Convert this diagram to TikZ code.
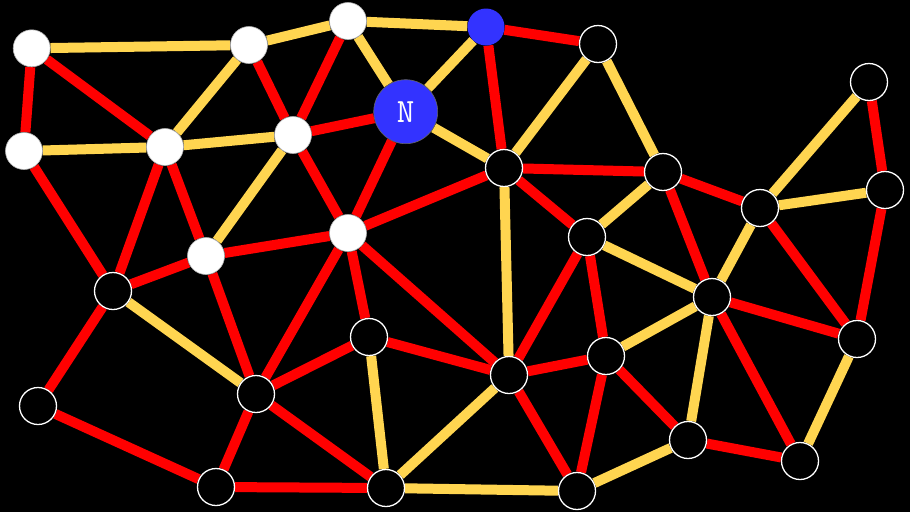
\documentclass[tikz,border=0pt]{standalone}
\usepackage{tikz}
\usetikzlibrary{backgrounds}
\definecolor{edgered}{RGB}{255,0,0}
\definecolor{edgeyel}{RGB}{255,213,80}
\definecolor{nodeblue}{RGB}{51,51,255}
\tikzset{
  wvtx/.style={circle,fill=white,draw=gray!60,line width=0.6pt,minimum size=37pt,inner sep=0pt},
  bvtx/.style={circle,fill=black,draw=white,line width=1.3pt,minimum size=37pt,inner sep=0pt},
  bluevtx/.style={circle,fill=nodeblue,minimum size=37pt,inner sep=0pt},
  bigvtx/.style={circle,fill=nodeblue,draw=black!60,line width=0.6pt,minimum size=64pt,inner sep=0pt,
    text=white,font=\ttfamily\fontsize{34}{34}\selectfont},
  redge/.style={edgered,line width=10pt},
  yedge/.style={edgeyel,line width=10pt}
}

\begin{document}
\begin{tikzpicture}[x=1pt,y=-1pt]
\useasboundingbox (0,0) rectangle (910,512);
% vertices
\node[wvtx] (a1) at (31.7,48.3) {};
\node[wvtx] (a2) at (249,45) {};
\node[wvtx] (a3) at (348,21) {};
\node[bluevtx] (a4) at (486,27) {};
\node[bvtx] (a5) at (598,44) {};
\node[bvtx] (a6) at (869,82) {};
\node[wvtx] (a7) at (24,151) {};
\node[wvtx] (a8) at (165,147) {};
\node[wvtx] (a9) at (293,135) {};
\node[bigvtx] (nn) at (405.7,111.7) {N};
\node[bvtx] (a11) at (504,168) {};
\node[bvtx] (a12) at (663,172) {};
\node[bvtx] (a13) at (760,208) {};
\node[bvtx] (a14) at (885,190) {};
\node[bvtx] (a15) at (587,237) {};
\node[wvtx] (a16) at (348,233) {};
\node[wvtx] (a17) at (206,256) {};
\node[bvtx] (a18) at (113,291) {};
\node[bvtx] (a19) at (712,297) {};
\node[bvtx] (a20) at (857,339) {};
\node[bvtx] (a21) at (369,337) {};
\node[bvtx] (a22) at (606,356) {};
\node[bvtx] (a23) at (509,375) {};
\node[bvtx] (a24) at (256,394) {};
\node[bvtx] (a25) at (38,406) {};
\node[bvtx] (a26) at (688,440) {};
\node[bvtx] (a27) at (800,461) {};
\node[bvtx] (a28) at (216,487) {};
\node[bvtx] (a29) at (386,488) {};
\node[bvtx] (a30) at (577,491) {};

\begin{pgfonlayer}{background}
\fill[black] (0,0) rectangle (910,512);
% yellow edges
\foreach \u/\v in {a1/a2,a7/a8,a2/a3,a2/a8,a3/a4,a3/nn,a4/nn,a8/a9,nn/a11,a9/a17,
    a5/a11,a5/a12,a11/a23,a12/a15,a6/a13,a13/a14,a13/a19,a15/a19,a18/a24,
    a19/a22,a19/a26,a20/a27,a21/a29,a23/a29,a29/a30,a26/a30}
  \draw[yedge] (\u) -- (\v);
% red edges
\foreach \u/\v in {a1/a7,a1/a8,a2/a9,a3/a9,a4/a5,a4/a11,a9/nn,nn/a16,a9/a16,a8/a17,
    a8/a18,a7/a18,a11/a12,a11/a16,a11/a15,a12/a13,a12/a19,a6/a14,a13/a20,a14/a20,
    a15/a22,a15/a23,a16/a17,a17/a18,a16/a21,a16/a23,a16/a24,a17/a24,a18/a25,
    a19/a20,a19/a27,a21/a24,a21/a23,a22/a23,a22/a26,a22/a30,a23/a30,a24/a29,
    a24/a28,a25/a28,a28/a29,a26/a27}
  \draw[redge] (\u) -- (\v);
\end{pgfonlayer}
\end{tikzpicture}
\end{document}
